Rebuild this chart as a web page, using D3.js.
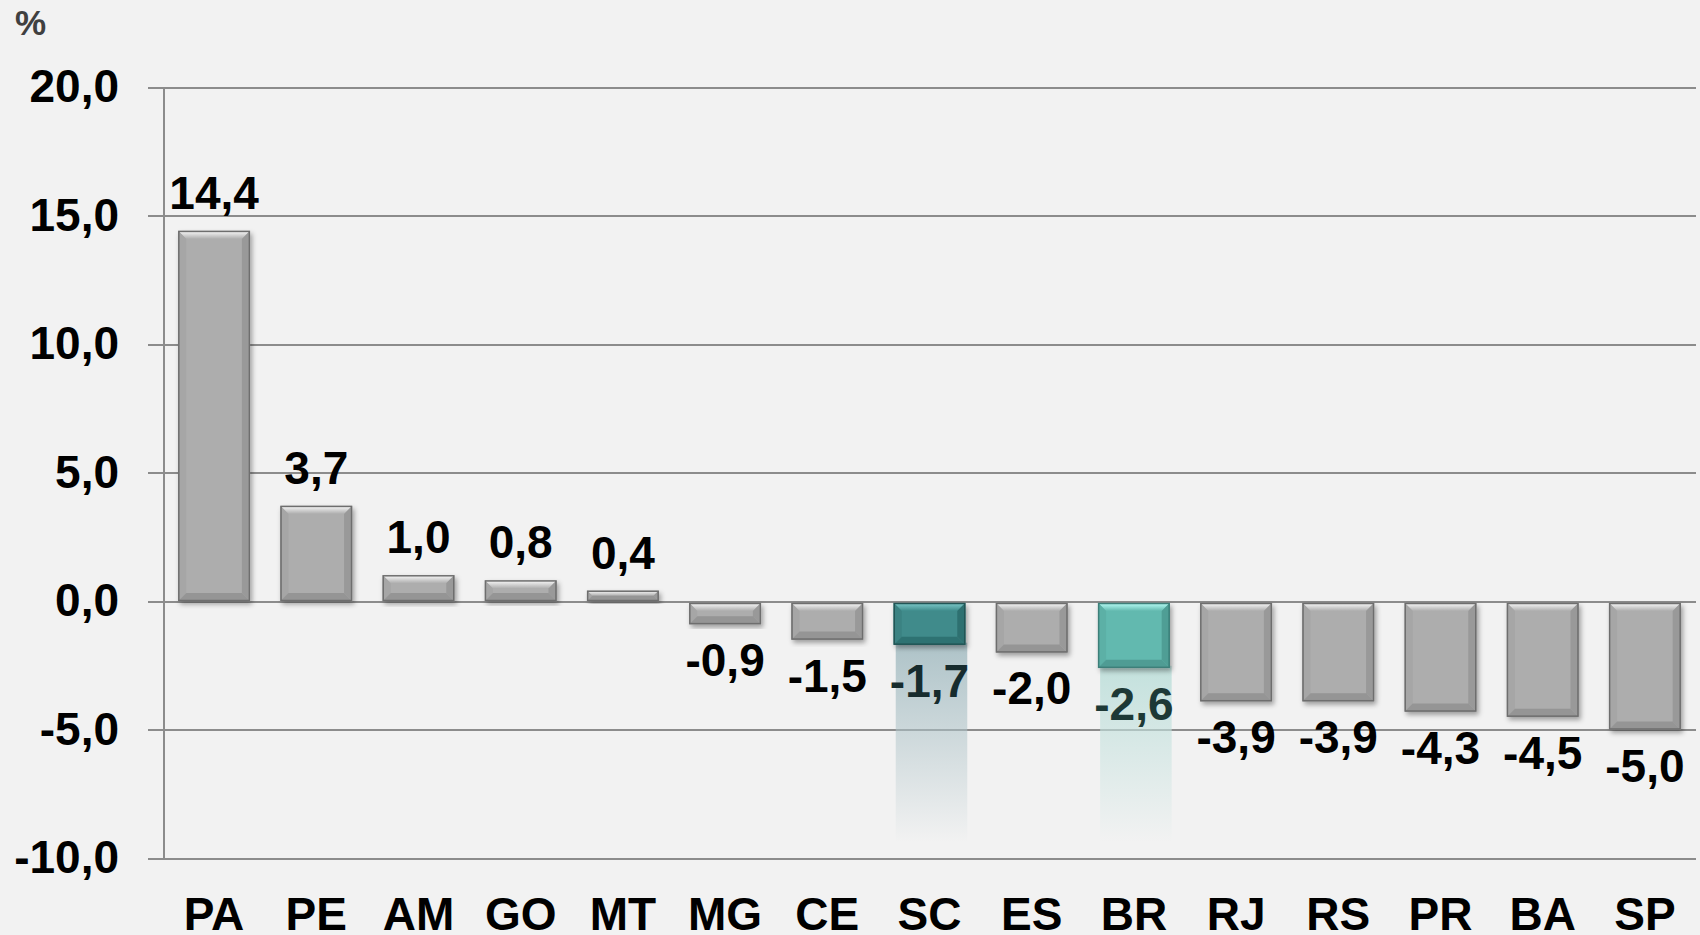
<!DOCTYPE html>
<html>
<head>
<meta charset="utf-8">
<style>
body{
  margin: 0;
  background-color: #f2f2f2;
}
svg{
  display: block;
  font-family: "Liberation Sans", Arial, sans-serif;
  font-weight: bold;
}
.grid .tick line{
  stroke: #8c8c8c;
  stroke-width: 2px;
  shape-rendering: crispEdges;
}
.grid path{
  stroke-width: 0;
}
.y-axis path, .y-axis line{
  stroke: #8c8c8c;
  stroke-width: 2px;
  shape-rendering: crispEdges;
}
.y-axis text, .x-axis text{
  font-size: 46px;
  fill: #000;
}
.x-axis path, .x-axis line{
  display: none;
}
</style>
</head>
<body>
<script src="https://cdn.jsdelivr.net/npm/d3@7/dist/d3.min.js"></script>
<script>
  var WIDTH = 1700;
  var HEIGHT = 935;

  // data
  var states = ["PA","PE","AM","GO","MT","MG","CE","SC","ES","BR","RJ","RS","PR","BA","SP"];
  var values = [14.4, 3.7, 1.0, 0.8, 0.4, -0.9, -1.5, -1.7, -2.0, -2.6, -3.9, -3.9, -4.3, -4.5, -5.0];
  var yTicks = [-10, -5, 0, 5, 10, 15, 20];
  var highlighted = ["SC", "BR"];

  var fmt = function(v){ return d3.format(".1f")(v).replace(".", ",").replace("−", "-"); };

  var palette = {
    gray:  {main: "#adadad", top: "#fbfbfb", left: "#a6a6a6", right: "#999999", bottom: "#959595", edge: "#6e6e6e", text: "#000000", glow: null},
    SC:    {main: "#3f8b8b", top: "#80cccc", left: "#3a8282", right: "#2f7070", bottom: "#2f7272", edge: "#245555", text: "#172c2e", glow: "#aec3c8"},
    BR:    {main: "#62b9af", top: "#bafff8", left: "#5cb0a6", right: "#4f9e95", bottom: "#4f9c94", edge: "#3c7f79", text: "#1d3936", glow: "#c3e1dd"}
  };
  var REFLECT_END = -9.4;
  var BEVEL = 8;

  var xScale = d3.scaleBand()
    .domain(states)
    .range([163, 1696])
    .paddingInner(0.3)
    .paddingOuter(0.15);

  var yScale = d3.scaleLinear()
    .domain([-10, 20])
    .range([858, 87]);

  var svg = d3.select("body").append("svg")
    .attr("width", WIDTH)
    .attr("height", HEIGHT);

  var defs = svg.append("defs");

  defs.append("filter")
    .attr("id", "shadow")
    .attr("x", "-20%").attr("y", "-20%").attr("width", "140%").attr("height", "140%")
    .append("feDropShadow")
      .attr("dx", 2).attr("dy", 3)
      .attr("stdDeviation", 2.5)
      .attr("flood-color", "#000")
      .attr("flood-opacity", 0.35);

  Object.keys(palette).forEach(function(k){
    var p = palette[k];
    var g = defs.append("linearGradient")
      .attr("id", "top-" + k)
      .attr("x1", 0).attr("y1", 0).attr("x2", 0).attr("y2", 1);
    g.append("stop").attr("offset", "0%").attr("stop-color", p.top);
    g.append("stop").attr("offset", "100%").attr("stop-color", p.main);
    if (p.glow){
      var r = defs.append("linearGradient")
        .attr("id", "glow-" + k)
        .attr("x1", 0).attr("y1", 0).attr("x2", 0).attr("y2", 1);
      r.append("stop").attr("offset", "0%").attr("stop-color", p.glow).attr("stop-opacity", 1);
      r.append("stop").attr("offset", "55%").attr("stop-color", p.glow).attr("stop-opacity", 0.45);
      r.append("stop").attr("offset", "100%").attr("stop-color", p.glow).attr("stop-opacity", 0);
    }
  });

  var points = states.map((d, i) => ({state: d, value: values[i]}));
  var pal = function(d){ return highlighted.indexOf(d.state) >= 0 ? palette[d.state] : palette.gray; };
  var key = function(d){ return highlighted.indexOf(d.state) >= 0 ? d.state : "gray"; };

  initAxes();
  renderGlow();
  renderBars();
  renderLabels();

  svg.append("text")
    .attr("x", 15).attr("y", 35)
    .style("font-size", "35px")
    .attr("fill", "#404040")
    .text("%");

  function initAxes(){
    var gridH = d3.axisLeft(yScale)
      .tickValues(yTicks)
      .tickSize(-(1696 - 148))
      .tickFormat("");

    svg.append("g")
      .attr("class", "grid")
      .attr("transform", "translate(148,0)")
      .call(gridH);

    var yAxis = d3.axisLeft(yScale)
      .tickValues(yTicks)
      .tickSizeInner(15)
      .tickSizeOuter(0)
      .tickPadding(29)
      .tickFormat(fmt);

    svg.append("g")
      .attr("class", "y-axis")
      .attr("transform", "translate(163,0)")
      .call(yAxis);

    var xAxis = d3.axisBottom(xScale)
      .tickSize(0)
      .tickPadding(39);

    svg.append("g")
      .attr("class", "x-axis")
      .attr("transform", `translate(0,${yScale(-10)})`)
      .call(xAxis);
  }

  function renderGlow(){
    svg.append("g").attr("class", "glow")
      .selectAll("rect")
      .data(points.filter(d => pal(d).glow))
      .enter()
      .append("rect")
        .attr("x", d => xScale(d.state) + 2)
        .attr("width", xScale.bandwidth())
        .attr("y", d => yScale(d.value) - 2)
        .attr("height", d => yScale(REFLECT_END) - yScale(d.value) + 2)
        .attr("fill", d => "url(#glow-" + key(d) + ")");
  }

  function renderBars(){
    var bars = svg.append("g").attr("class", "bars")
      .selectAll("g.bar")
      .data(points)
      .enter()
      .append("g")
        .attr("class", "bar")
        .attr("filter", "url(#shadow)");

    var geom = function(d){
      var x0 = xScale(d.state), x1 = x0 + xScale.bandwidth();
      var y0 = Math.min(yScale(d.value), yScale(0) + 1);
      var y1 = Math.max(yScale(d.value), yScale(0));
      if (d.value < 0) y0 = yScale(0) + 2;
      var b = Math.min(BEVEL, (y1 - y0) / 2);
      return {x0: x0, x1: x1, y0: y0, y1: y1, b: b};
    };

    bars.append("rect")
      .attr("x", d => geom(d).x0)
      .attr("y", d => geom(d).y0)
      .attr("width", xScale.bandwidth())
      .attr("height", d => geom(d).y1 - geom(d).y0)
      .attr("fill", d => pal(d).main);

    var poly = function(pts){ return "M" + pts.map(p => p.join(",")).join("L") + "Z"; };

    bars.append("path")
      .attr("d", d => { var g = geom(d); return poly([[g.x0, g.y0], [g.x1, g.y0], [g.x1 - g.b, g.y0 + g.b], [g.x0 + g.b, g.y0 + g.b]]); })
      .attr("fill", d => "url(#top-" + key(d) + ")");

    bars.append("path")
      .attr("d", d => { var g = geom(d); return poly([[g.x0, g.y0], [g.x0 + g.b, g.y0 + g.b], [g.x0 + g.b, g.y1 - g.b], [g.x0, g.y1]]); })
      .attr("fill", d => pal(d).left);

    bars.append("path")
      .attr("d", d => { var g = geom(d); return poly([[g.x1, g.y0], [g.x1 - g.b, g.y0 + g.b], [g.x1 - g.b, g.y1 - g.b], [g.x1, g.y1]]); })
      .attr("fill", d => pal(d).right);

    bars.append("path")
      .attr("d", d => { var g = geom(d); return poly([[g.x0, g.y1], [g.x0 + g.b, g.y1 - g.b], [g.x1 - g.b, g.y1 - g.b], [g.x1, g.y1]]); })
      .attr("fill", d => pal(d).bottom);

    bars.append("rect")
      .attr("x", d => geom(d).x0 + 0.5)
      .attr("y", d => geom(d).y0 + 0.5)
      .attr("width", xScale.bandwidth() - 1)
      .attr("height", d => geom(d).y1 - geom(d).y0 - 1)
      .attr("fill", "none")
      .attr("stroke", d => pal(d).edge)
      .attr("stroke-width", 1.5);
  }

  function renderLabels(){
    svg.append("g").attr("class", "labels")
      .selectAll("text")
      .data(points)
      .enter()
      .append("text")
        .attr("x", d => xScale(d.state) + xScale.bandwidth() / 2)
        .attr("y", d => d.value >= 0 ? yScale(d.value) - 22 : yScale(d.value) + 52)
        .attr("text-anchor", "middle")
        .style("font-size", "46px")
        .attr("fill", d => pal(d).text)
        .text(d => fmt(d.value));
  }
</script>
</body>
</html>
